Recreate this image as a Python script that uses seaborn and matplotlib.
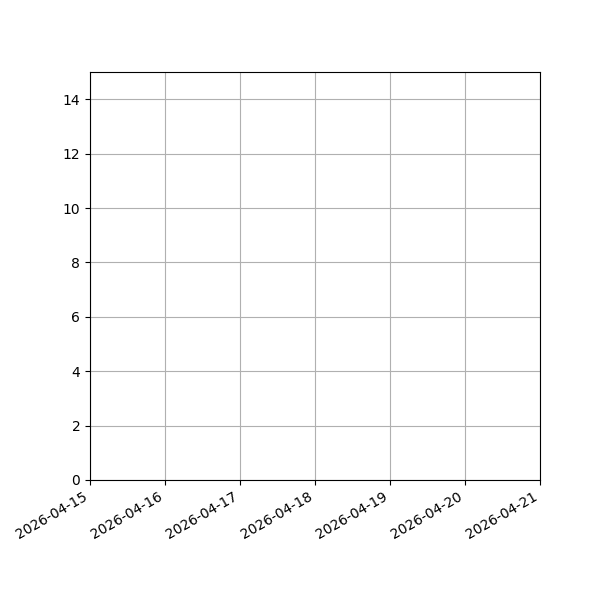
import matplotlib
matplotlib.use("Agg")
import matplotlib.pyplot as plt
import matplotlib.dates as mdates
import seaborn as sns
import pandas as pd
import numpy as np

# The reference shows an empty series
dates = []
values = []
x_start = "2026-04-15"
x_end = "2026-04-21"
y_min, y_max = 0, 15

sns.set_style("ticks")
plt.rcParams['font.family'] = ['DejaVu Sans']

fig, ax = plt.subplots(figsize=(6, 6), dpi=100)
fig.subplots_adjust(left=0.15, right=0.9, top=0.88, bottom=0.2)

df = pd.DataFrame({"date": pd.to_datetime(pd.Series(dates, dtype="object")), "value": pd.Series(values, dtype=float)})
if len(df):
    sns.lineplot(data=df, x="date", y="value", ax=ax)

ax.set_xlim(pd.Timestamp(x_start), pd.Timestamp(x_end))
ax.set_ylim(y_min, y_max)
ax.xaxis.set_major_locator(mdates.DayLocator())
ax.xaxis.set_major_formatter(mdates.DateFormatter("%Y-%m-%d"))
ax.set_yticks(np.arange(0, 15, 2))
ax.grid(True, color="#b0b0b0", linewidth=0.8)
ax.set_xlabel("")
ax.set_ylabel("")
for s in ax.spines.values():
    s.set_visible(True)
    s.set_color("black")
    s.set_linewidth(0.8)
ax.tick_params(direction="out", length=3.5, width=0.8, colors="black", labelsize=10)
for lbl in ax.get_xticklabels():
    lbl.set_rotation(30)
    lbl.set_ha("right")

fig.savefig("out.png", dpi=100, facecolor="white")
